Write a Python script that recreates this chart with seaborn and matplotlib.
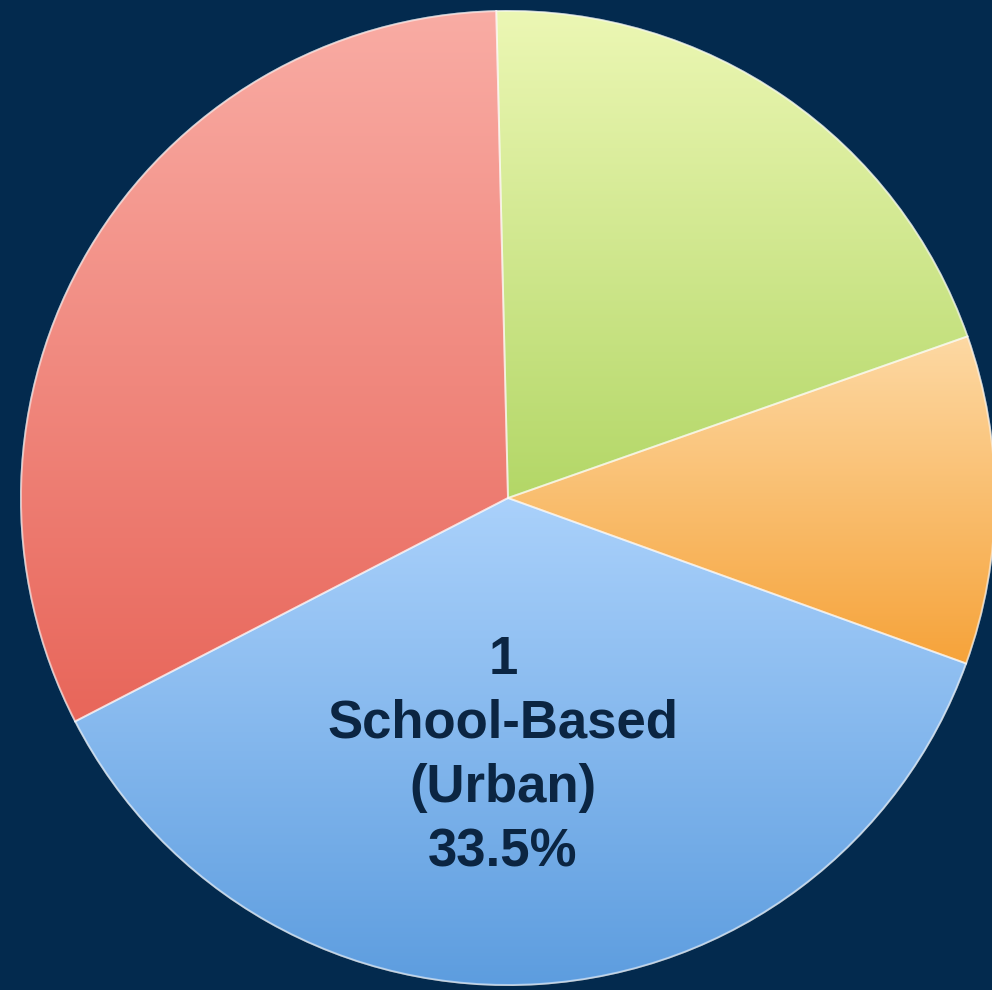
import matplotlib as mpl

mpl.use("Agg")

import matplotlib.pyplot as plt
import numpy as np
import seaborn as sns

sns.set_theme(style="white")
plt.rcParams["font.family"] = ["Liberation Sans", "DejaVu Sans"]

# Slice order follows the drawing direction (counter-clockwise from the lower-left boundary)
categories = ["School-Based (Urban)", "Orange slice", "Green slice", "Red slice"]
shares = [36.9, 10.9, 20.0, 32.2]  # apparent shares
label_text = "1\nSchool-Based\n(Urban)\n33.5%"

# (light top, darker bottom) for each slice
gradients = [
    ("#aad1fb", "#5d9ddf"),
    ("#fdd9a4", "#f6a33a"),
    ("#ecf7b4", "#b3d767"),
    ("#f9aca4", "#e8665a"),
]

BG = "#032a4e"
TEXT = "#0b2542"

fig = plt.figure(figsize=(9.92, 9.90), dpi=100, facecolor=BG)
ax = fig.add_axes([0, 0, 1, 1])
ax.set_facecolor(BG)

center = (508, 492)
radius = 487

wedges, _ = ax.pie(
    shares,
    startangle=207.3,
    counterclock=True,
    center=center,
    radius=radius,
    colors=[g[1] for g in gradients],
    wedgeprops=dict(edgecolor=(1, 1, 1, 0.55), linewidth=1.4),
)

# vertical gradient fill clipped to each wedge
grad = np.linspace(0, 1, 256).reshape(-1, 1)
for w, (top, bottom) in zip(wedges, gradients):
    bb = w.get_path().get_extents()
    cmap = sns.blend_palette([bottom, top], as_cmap=True)
    im = ax.imshow(
        grad,
        extent=(bb.x0, bb.x1, bb.y0, bb.y1),
        origin="lower",
        cmap=cmap,
        aspect="auto",
        zorder=w.get_zorder() + 0.1,
        interpolation="bilinear",
    )
    im.set_clip_path(w)
    # redraw the edge above the gradient
    ax.add_patch(
        mpl.patches.Wedge(
            center, radius, w.theta1, w.theta2,
            facecolor="none", edgecolor=(1, 1, 1, 0.5), linewidth=1.4, zorder=w.get_zorder() + 0.2,
        )
    )

ax.text(
    503, 234, label_text,
    ha="center", va="center", fontsize=38, fontweight="bold", color=TEXT,
    linespacing=1.36, zorder=10,
)

ax.set_xlim(0, 992)
ax.set_ylim(0, 990)
ax.set_aspect("equal")
ax.axis("off")

fig.savefig("out.png", dpi=100, facecolor=BG)
